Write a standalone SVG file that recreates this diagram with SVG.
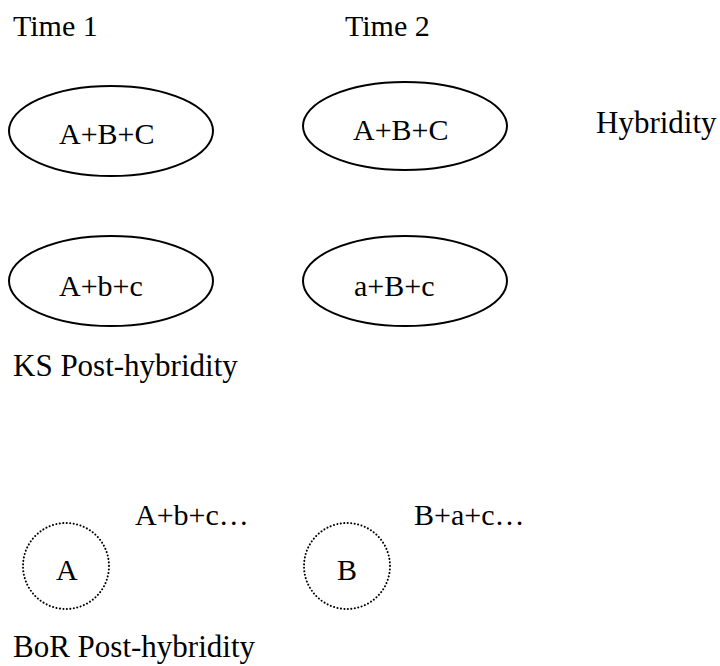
<svg xmlns="http://www.w3.org/2000/svg" width="720" height="666" viewBox="0 0 720 666">
  <style>
    text { font-family: "Liberation Serif", "Times New Roman", serif; font-size: 30px; fill: #000; }
    .label { font-size: 31px; }
    .solid { fill: none; stroke: #000; stroke-width: 2; }
    .dotted { fill: none; stroke: #000; stroke-width: 2; stroke-dasharray: 0.1 3.4; stroke-linecap: round; }
  </style>
  <rect width="720" height="666" fill="#fff"/>

  <!-- column headings -->
  <text x="13" y="36">Time 1</text>
  <text x="345" y="36">Time 2</text>

  <!-- hybridity row -->
  <g id="t1-hybrid">
    <ellipse class="solid" cx="111" cy="131" rx="102" ry="45"/>
    <text x="59" y="144">A+B+C</text>
  </g>
  <g id="t2-hybrid">
    <ellipse class="solid" cx="405" cy="126" rx="102" ry="44"/>
    <text x="353" y="140">A+B+C</text>
  </g>
  <text class="label" x="596" y="133">Hybridity</text>

  <!-- KS post-hybridity row -->
  <g id="t1-ks">
    <ellipse class="solid" cx="111" cy="281" rx="102" ry="45"/>
    <text x="59" y="296">A+b+c</text>
  </g>
  <g id="t2-ks">
    <ellipse class="solid" cx="405" cy="281" rx="102" ry="45"/>
    <text x="354" y="296">a+B+c</text>
  </g>
  <text class="label" x="13" y="376">KS Post-hybridity</text>

  <!-- BoR post-hybridity row -->
  <g id="bor-a">
    <circle class="dotted" cx="66" cy="566" r="43"/>
    <text x="56" y="580">A</text>
    <text x="135" y="525">A+b+c…</text>
  </g>
  <g id="bor-b">
    <circle class="dotted" cx="347" cy="566" r="43"/>
    <text x="337" y="580">B</text>
    <text x="414" y="525">B+a+c…</text>
  </g>
  <text class="label" x="13" y="657">BoR Post-hybridity</text>

  <g id="connectors"/>
</svg>
